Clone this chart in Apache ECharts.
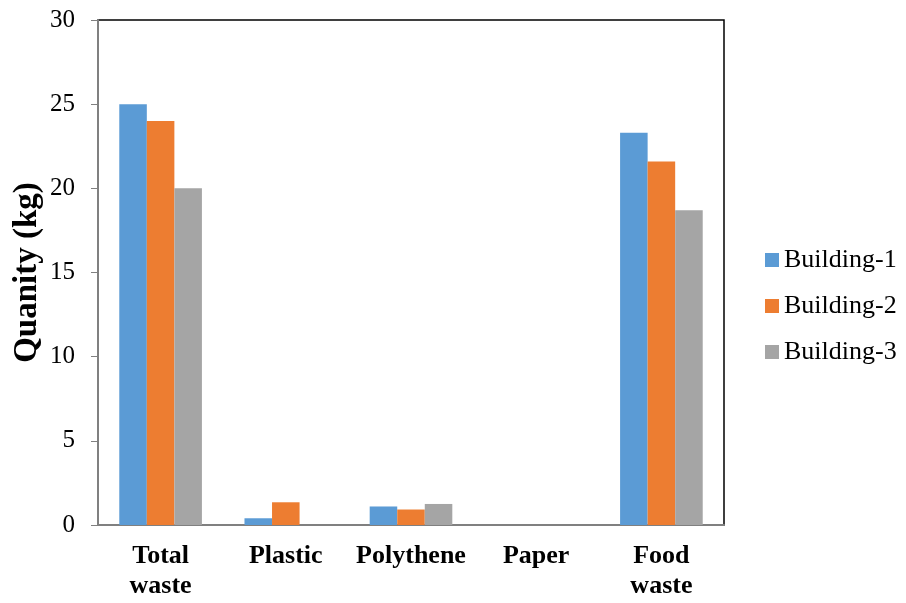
<!DOCTYPE html>
<html><head><meta charset="utf-8">
<script src="https://cdn.jsdelivr.net/npm/echarts@6/dist/echarts.min.js"></script>
<style>html,body{margin:0;padding:0;background:#fff}#c{width:906px;height:603px}</style>
</head><body><div id="c"></div>
<script>
const categories = ['Total\nwaste', 'Plastic', 'Polythene', 'Paper', 'Food\nwaste'];
const building1 = [25, 0.4, 1.1, 0, 23.3];
const building2 = [24, 1.35, 0.92, 0, 21.6];
const building3 = [20, 0, 1.25, 0, 18.7];
const yTicks = [0, 5, 10, 15, 20, 25, 30];
const seriesNames = ['Building-1', 'Building-2', 'Building-3'];
const colors = ['#5B9BD5', '#ED7D31', '#A5A5A5'];

const font = '"Liberation Serif", "Times New Roman", serif';
const chart = echarts.init(document.getElementById('c'));
chart.setOption({
  animation: false,
  color: colors,
  grid: { left: 98, right: 182, top: 20, bottom: 78, show: true, borderColor: '#000', borderWidth: 1.5, containLabel: false, outerBoundsMode: 'none' },
  legend: {
    orient: 'vertical', left: 760, top: 242,
    itemWidth: 14, itemHeight: 14, itemGap: 20,
    icon: 'rect',
    textStyle: { fontFamily: font, fontSize: 26, color: '#000' },
    data: seriesNames
  },
  xAxis: {
    type: 'category', data: categories,
    axisLine: { lineStyle: { color: '#808080', width: 2 } },
    axisTick: { show: false },
    axisLabel: { fontFamily: font, fontSize: 26, fontWeight: 'bold', color: '#000', margin: 16, lineHeight: 30, interval: 0 }
  },
  yAxis: {
    type: 'value', min: yTicks[0], max: yTicks[yTicks.length - 1], interval: 5,
    name: 'Quanity (kg)', nameLocation: 'middle', nameGap: 54, nameMoveOverlap: false,
    nameTextStyle: { fontFamily: font, fontSize: 33, fontWeight: 'bold', color: '#000' },
    axisLine: { show: true, lineStyle: { color: '#808080', width: 2 } },
    axisTick: { show: true, length: 7, lineStyle: { color: '#808080' } },
    splitLine: { show: false },
    axisLabel: { fontFamily: font, fontSize: 25, color: '#000', margin: 23 }
  },
  series: [building1, building2, building3].map((d, i) => ({
    name: seriesNames[i], type: 'bar', data: d,
    barGap: '0%', barCategoryGap: '34%',
    itemStyle: { color: colors[i], borderWidth: 0 }
  }))
});
</script></body></html>
